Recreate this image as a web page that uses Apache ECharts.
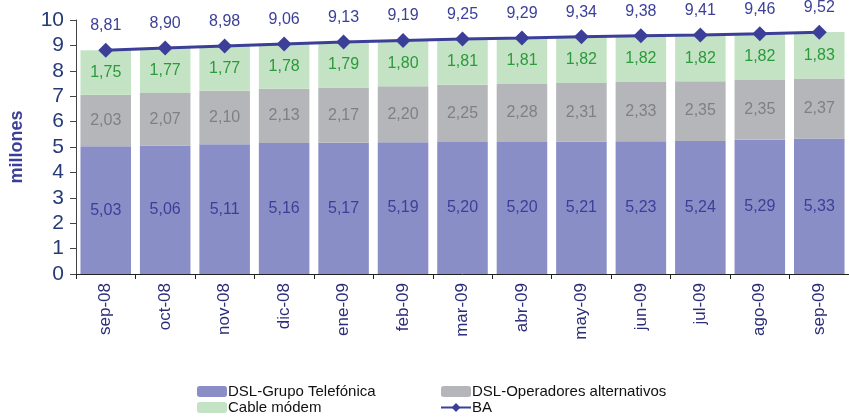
<!DOCTYPE html>
<html>
<head>
<meta charset="utf-8">
<script src="https://cdn.jsdelivr.net/npm/echarts@6/dist/echarts.min.js"></script>
<style>
html,body{margin:0;padding:0;background:#fff;}
#chart{width:849px;height:419px;}
</style>
</head>
<body>
<div id="chart"></div>
<script>
var meses = ['sep-08','oct-08','nov-08','dic-08','ene-09','feb-09','mar-09','abr-09','may-09','jun-09','jul-09','ago-09','sep-09'];
var dslTelefonica = [5.03,5.06,5.11,5.16,5.17,5.19,5.20,5.20,5.21,5.23,5.24,5.29,5.33];
var dslAlternativos = [2.03,2.07,2.10,2.13,2.17,2.20,2.25,2.28,2.31,2.33,2.35,2.35,2.37];
var cableModem = [1.75,1.77,1.77,1.78,1.79,1.80,1.81,1.81,1.82,1.82,1.82,1.82,1.83];
var totalBA = [8.81,8.90,8.98,9.06,9.13,9.19,9.25,9.29,9.34,9.38,9.41,9.46,9.52];

var fuente = "'Liberation Sans Narrow','Liberation Sans',Arial,sans-serif";
function coma(p){ return p.value.toFixed(2).replace('.', ','); }

var leyendaTexto = {fontFamily:'Liberation Sans,Arial',fontSize:15,lineHeight:14,color:'#111',padding:[0,0,0,-4]};

var myChart = echarts.init(document.getElementById('chart'));
var option = {
	animation:false,
	grid:{left:74,right:-20,top:20,bottom:145},
	legend:[
		{
			orient:'vertical',left:197,top:384,padding:0,itemGap:1,itemWidth:30,itemHeight:11,
			textStyle:leyendaTexto,
			data:['DSL-Grupo Telefónica','Cable módem']
		},
		{
			orient:'vertical',left:440,top:384,padding:0,itemGap:1,itemWidth:30,itemHeight:11,
			textStyle:leyendaTexto,
			data:['DSL-Operadores alternativos','BA']
		}
	],
	xAxis:{
		type:'category',
		data:meses,
		axisLine:{lineStyle:{color:'#222',width:1}},
		axisTick:{show:true,length:5,lineStyle:{color:'#222'}},
		axisLabel:{rotate:90,color:'#2b2d78',fontSize:17,fontFamily:'Liberation Sans,Arial',margin:9}
	},
	yAxis:{
		type:'value',min:0,max:10,interval:1,
		name:'millones',nameLocation:'middle',nameGap:50,nameRotate:90,
		nameTextStyle:{color:'#3c3f98',fontSize:18,fontWeight:'bold',fontFamily:'Liberation Sans,Arial'},
		axisLine:{show:true,lineStyle:{color:'#444'}},
		axisTick:{show:true,inside:false,length:6,lineStyle:{color:'#444'}},
		axisLabel:{color:'#263a78',fontSize:21,fontFamily:'Liberation Sans,Arial',margin:12},
		splitLine:{show:false}
	},
	series:[
		{
			name:'DSL-Grupo Telefónica',type:'bar',stack:'ba',barCategoryGap:'15%',
			itemStyle:{color:'#8a8ec6'},
			label:{show:true,position:'inside',formatter:coma,color:'#3c3f98',fontSize:16,fontFamily:fuente},
			data:dslTelefonica
		},
		{
			name:'DSL-Operadores alternativos',type:'bar',stack:'ba',
			itemStyle:{color:'#b5b6ba'},
			label:{show:true,position:'inside',formatter:coma,color:'#808080',fontSize:16,fontFamily:fuente},
			data:dslAlternativos
		},
		{
			name:'Cable módem',type:'bar',stack:'ba',
			itemStyle:{color:'#c4e3c4'},
			label:{show:true,position:'inside',formatter:coma,color:'#2a9a3a',fontSize:16,fontFamily:fuente},
			data:cableModem
		},
		{
			name:'BA',type:'line',
			symbol:'diamond',symbolSize:15,
			lineStyle:{color:'#3c3f98',width:3},
			itemStyle:{color:'#3c3f98'},
			label:{show:true,position:'top',distance:9,formatter:coma,color:'#3c3f98',fontSize:16,fontFamily:fuente},
			data:totalBA
		}
	]
};
myChart.setOption(option);
</script>
</body>
</html>
